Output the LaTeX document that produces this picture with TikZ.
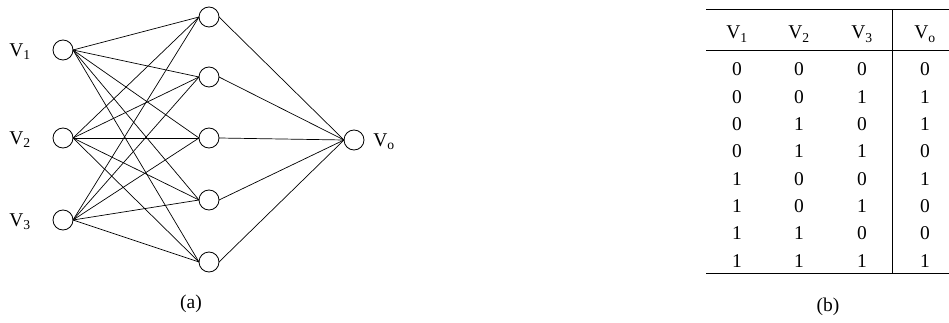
\documentclass[tikz,border=0pt]{standalone}
\usepackage{fontspec}
\setmainfont{Liberation Serif}
\begin{document}
\begin{tikzpicture}[x=1pt,y=-1pt,
  neuron/.style={circle,draw,line width=0.8pt,minimum size=20pt,inner sep=0pt,outer sep=0pt},
  conn/.style={line width=0.7pt},
  lbl/.style={font=\fontsize{19.5}{23}\selectfont,inner sep=0pt},
  cell/.style={lbl,anchor=base},
  tabrule/.style={line width=1pt}]
\useasboundingbox (0,0) rectangle (949,323);
% network
\node[neuron] (i1) at (63,50) {};
\node[neuron] (i2) at (63,138) {};
\node[neuron] (i3) at (63,220) {};
\node[neuron] (h1) at (209,17) {};
\node[neuron] (h2) at (209,77) {};
\node[neuron] (h3) at (209,138) {};
\node[neuron] (h4) at (209,200) {};
\node[neuron] (h5) at (209,262) {};
\node[neuron] (o) at (354,140) {};
\foreach \i in {1,2,3}{
  \foreach \h in {1,...,5}{
    \draw[conn] (i\i.east) -- (h\h.west);
  }
}
\foreach \h in {1,...,5}{
  \draw[conn] (h\h.east) -- (o.west);
}
\node[cell] (l1) at (20,56.5) {V\textsubscript{1}};
\node[cell] (l2) at (20,144.5) {V\textsubscript{2}};
\node[cell] (l3) at (20,226.5) {V\textsubscript{3}};
\node[cell] (lo) at (384,146.5) {V\textsubscript{o}};
\node[lbl] (capa) at (191,304) {(a)};
% table
\coordinate (tl) at (706,9.5);
\coordinate (tr) at (949,9.5);
\coordinate (ml) at (706,51);
\coordinate (mr) at (949,51);
\coordinate (bl) at (706,273);
\coordinate (br) at (949,273);
\coordinate (vt) at (892,9.5);
\coordinate (vb) at (892,273);
\draw[tabrule] (tl) -- (tr);
\draw[tabrule] (ml) -- (mr);
\draw[tabrule] (bl) -- (br);
\draw[tabrule] (vt) -- (vb);
\node[cell] (hv1) at (737,39) {V\textsubscript{1}};
\node[cell] (hv2) at (799,39) {V\textsubscript{2}};
\node[cell] (hv3) at (862,39) {V\textsubscript{3}};
\node[cell] (hvo) at (925,39) {V\textsubscript{o}};
\foreach \a/\b/\c/\d [count=\r from 0] in {0/0/0/0,0/0/1/1,0/1/0/1,0/1/1/0,1/0/0/1,1/0/1/0,1/1/0/0,1/1/1/1}{
  \pgfmathsetmacro{\yy}{76+27.3*\r}
  \node[cell] (ra\r) at (737,\yy) {\a};
  \node[cell] (rb\r) at (799,\yy) {\b};
  \node[cell] (rc\r) at (862,\yy) {\c};
  \node[cell] (rd\r) at (925,\yy) {\d};
}
\node[lbl] (capb) at (828,307) {(b)};
\end{tikzpicture}
\end{document}
